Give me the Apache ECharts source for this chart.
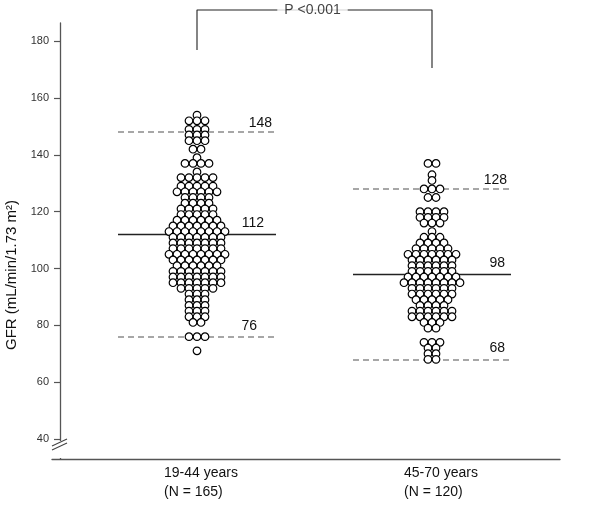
<!DOCTYPE html>
<html>
<head>
<meta charset="utf-8">
<script src="https://cdn.jsdelivr.net/npm/echarts@6/dist/echarts.min.js"></script>
<style>html,body{margin:0;padding:0;background:#fff}#c{width:600px;height:508px}</style>
</head>
<body>
<div id="c"></div>
<script>
// ---- data ----
const categories = ['19-44 years', '45-70 years'];
const groupN = [165, 120];
// dot rows: GFR level and number of dots at that level
const young_levels = [154,152,149,147,145,142,139,137,134,132,129,127,125,123,121,119,117,115,113,111,109,107,105,103,101,99,97,95,93,91,89,87,85,83,81,76,71];
const young_counts = [1,3,3,3,3,2,1,4,1,5,5,6,4,4,5,5,6,7,8,7,7,7,8,7,6,7,7,7,5,3,3,3,3,3,2,3,1];
const old_levels = [137,133,131,128,125,120,118,116,113,111,109,107,105,103,101,99,97,95,93,91,89,87,85,83,81,79,74,72,70,68];
const old_counts = [2,1,1,3,2,4,4,3,1,3,4,5,7,6,6,6,7,8,6,6,5,4,6,6,3,2,3,2,2,2];
const means = [112, 98];
const upperRef = [148, 128];
const lowerRef = [76, 68];
const pText = 'P <0.001';
const yTicks = [40, 60, 80, 100, 120, 140, 160, 180];

// ---- layout ----
const centers = [137, 372];      // x positions of the two groups (axis units)
const labelPos = [146, 386];     // x label anchors
const dotStep = 8;
const halfLine = 79;
const bracketTop = 191;
const bracketLegs = [176.9, 170.6];
const labelDist = [[[4, 2], [12, 4], [19, 4]], [[4, 2], [6, 4], [6, 4]]];

function swarm(levels, counts, cx) {
  const pts = [];
  levels.forEach((v, r) => {
    const n = counts[r];
    for (let i = 0; i < n; i++) pts.push([cx + (i - (n - 1) / 2) * dotStep, v]);
  });
  return pts;
}
const groups = [swarm(young_levels, young_counts, centers[0]), swarm(old_levels, old_counts, centers[1])];

const FONT = '"Liberation Sans", Arial, sans-serif';
function refLine(g, v, dashed, dist) {
  return [{coord: [centers[g] - halfLine, v],
           lineStyle: dashed ? {type: [6, 4], color: '#8a8a8a', width: 1.6} : {type: 'solid', color: '#222', width: 1.3},
           label: {show: true, formatter: String(v), position: 'insideEndTop', distance: dist, fontSize: 14, color: '#111', fontFamily: FONT}},
          {coord: [centers[g] + halfLine, v]}];
}

const series = groups.map((pts, g) => ({
  type: 'scatter', data: pts, symbol: 'circle', symbolSize: 7.6,
  itemStyle: {color: '#fff', borderColor: '#000', borderWidth: 1.2, opacity: 1},
  silent: true, z: 3,
  markLine: {silent: true, symbol: 'none', animation: false, z: 2,
    data: [refLine(g, upperRef[g], true, labelDist[g][0]), refLine(g, means[g], false, labelDist[g][1]), refLine(g, lowerRef[g], true, labelDist[g][2])]}
}));
series.push({
  type: 'line', clip: false, symbol: 'none', silent: true, z: 1,
  lineStyle: {color: '#222', width: 1.1},
  data: [[centers[0], bracketLegs[0]], [centers[0], bracketTop], [centers[1], bracketTop], [centers[1], bracketLegs[1]]]
});
series.push({
  type: 'scatter', clip: false, symbolSize: 0, silent: true, z: 5,
  data: [[(centers[0] + centers[1]) / 2 - 2, bracketTop]],
  label: {show: true, position: 'inside', formatter: pText, backgroundColor: '#fff', padding: [1, 7],
          fontSize: 14, color: '#111', fontFamily: FONT}
});

const chart = echarts.init(document.getElementById('c'), null, {renderer: 'canvas'});
chart.setOption({
  animation: false,
  backgroundColor: '#fff',
  grid: {left: 52, right: 40, top: 23, bottom: 49},
  xAxis: {
    type: 'value', min: -8, max: 500,
    axisLine: {show: true, onZero: false, lineStyle: {color: '#555', width: 1.3}},
    axisTick: {show: false}, splitLine: {show: false},
    axisLabel: {
      customValues: labelPos, margin: 5, color: '#111', fontFamily: FONT,
      formatter: (v) => {
        const i = labelPos.indexOf(v);
        return '{a|' + categories[i] + '}\n{a|(N = ' + groupN[i] + ')}';
      },
      rich: {a: {width: 84, align: 'left', fontSize: 14, lineHeight: 19, color: '#111', fontFamily: FONT}}
    }
  },
  yAxis: {
    type: 'value', min: 32.92, max: 186.44,
    axisLine: {show: true, onZero: true, lineStyle: {color: '#555', width: 1.3}},
    axisTick: {show: true, length: 6, customValues: yTicks, lineStyle: {color: '#555', width: 1.2}},
    axisLabel: {customValues: yTicks, margin: 3, fontSize: 11, color: '#333', fontFamily: FONT},
    splitLine: {show: false}
  },
  graphic: [
    {type: 'rect', shape: {x: 56, y: 441, width: 8, height: 17}, style: {fill: '#fff'}, z: 100},
    {type: 'line', shape: {x1: 52, y1: 446, x2: 67, y2: 439}, style: {stroke: '#444', lineWidth: 1.1}, z: 101},
    {type: 'line', shape: {x1: 52, y1: 450, x2: 67, y2: 443}, style: {stroke: '#444', lineWidth: 1.1}, z: 101},
    {type: 'text', x: 12, y: 275, rotation: Math.PI / 2,
     style: {text: 'GFR (mL/min/1.73 m²)', fontSize: 15, fill: '#111', fontFamily: FONT, align: 'center', verticalAlign: 'middle'}, z: 100}
  ],
  series: series
});
</script>
</body>
</html>
